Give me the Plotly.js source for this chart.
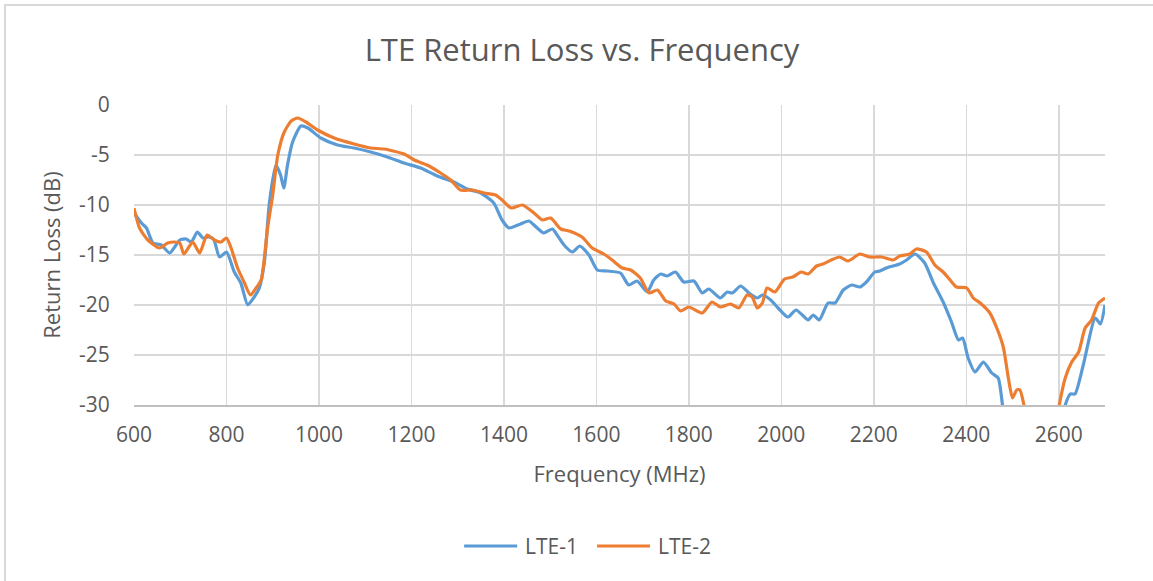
<!DOCTYPE html>
<html>
<head>
<meta charset="utf-8">
<script src="https://cdn.plot.ly/plotly-3.0.1.min.js"></script>
<style>
  html, body { margin: 0; padding: 0; background: #fff; }
  #chart { position: absolute; left: 0; top: 0; width: 1153px; height: 581px; }
  #frame { position: absolute; left: 4px; top: 4px; width: 1200px; height: 600px;
           border-top: 2px solid #d9d9d9; border-left: 2px solid #d9d9d9; pointer-events: none; }
</style>
</head>
<body>
<div id="chart"></div>
<div id="frame"></div>
<script>
const lte1Freq = [600,616,627,641,659,677,688,699,713,724,737,749,761,772,785,800,817,831,846,860,871,882,893,907,917,924,932,943,961,976,1004,1040,1076,1112,1148,1184,1220,1256,1292,1321,1350,1378,1396,1411,1436,1454,1472,1486,1505,1515,1530,1548,1564,1584,1602,1623,1652,1670,1688,1710,1724,1739,1753,1771,1789,1811,1829,1843,1868,1883,1894,1912,1930,1948,1959,1977,1993,2014,2032,2058,2069,2082,2101,2116,2134,2152,2170,2184,2202,2213,2227,2256,2271,2289,2310,2329,2350,2368,2383,2392,2404,2419,2437,2455,2469,2480,2500,2560,2600,2614,2625,2635,2653,2679,2690,2700];
const lte1Loss = [-10.8,-11.8,-12.3,-13.8,-14.0,-14.8,-14.2,-13.5,-13.4,-13.7,-12.7,-13.3,-13.2,-13.4,-15.2,-14.7,-16.7,-17.8,-20.0,-19.2,-18.3,-15.7,-9.7,-6.0,-7.0,-8.3,-6.0,-3.7,-2.1,-2.3,-3.3,-4.0,-4.3,-4.7,-5.2,-5.8,-6.3,-7.1,-7.7,-8.4,-8.8,-9.8,-11.5,-12.3,-11.9,-11.6,-12.3,-12.8,-12.4,-13.0,-14.0,-14.7,-14.1,-15.0,-16.5,-16.6,-16.8,-18.0,-17.6,-18.7,-17.5,-16.9,-17.1,-16.7,-17.7,-17.6,-18.8,-18.4,-19.3,-18.7,-18.8,-18.1,-18.8,-19.3,-19.0,-19.5,-20.3,-21.2,-20.5,-21.5,-21.0,-21.5,-19.8,-19.8,-18.5,-18.0,-18.2,-17.7,-16.7,-16.6,-16.3,-15.9,-15.5,-14.9,-15.8,-17.8,-19.7,-21.7,-23.5,-23.3,-25.3,-26.7,-25.7,-26.8,-27.3,-30.5,-34,-36,-33,-30,-28.9,-28.9,-26.0,-21.3,-21.9,-20.0];

const lte2Freq = [600,612,630,655,673,688,699,708,727,742,758,774,788,800,810,824,838,852,864,875,889,900,911,925,940,954,972,997,1033,1076,1112,1141,1184,1206,1234,1263,1285,1306,1332,1357,1382,1396,1416,1440,1465,1483,1501,1523,1541,1569,1591,1616,1634,1656,1674,1695,1714,1732,1750,1768,1782,1800,1829,1850,1868,1890,1908,1926,1937,1948,1959,1969,1986,2007,2025,2043,2058,2076,2090,2108,2126,2144,2170,2191,2217,2242,2256,2278,2292,2314,2332,2350,2365,2379,2401,2415,2430,2451,2466,2480,2491,2500,2509,2516,2527,2545,2575,2590,2601,2614,2628,2643,2657,2671,2686,2700];
const lte2Loss = [-10.3,-12.3,-13.5,-14.3,-13.8,-13.7,-13.8,-14.9,-13.7,-14.8,-13.0,-13.5,-13.7,-13.3,-14.3,-16.3,-17.7,-19.0,-18.3,-17.5,-12.3,-9.0,-5.0,-2.7,-1.6,-1.3,-1.7,-2.5,-3.3,-3.9,-4.3,-4.4,-4.9,-5.5,-6.0,-6.8,-7.5,-8.5,-8.5,-8.8,-9.0,-9.5,-10.3,-10.0,-10.8,-11.5,-11.3,-12.4,-12.6,-13.2,-14.3,-14.9,-15.5,-16.3,-16.5,-17.3,-18.8,-18.5,-19.6,-19.9,-20.6,-20.2,-20.8,-19.7,-20.2,-19.9,-20.3,-19.0,-19.2,-20.3,-19.8,-18.3,-18.7,-17.4,-17.2,-16.7,-16.9,-16.1,-15.9,-15.5,-15.2,-15.6,-14.9,-15.2,-15.2,-15.5,-15.1,-14.9,-14.4,-14.7,-16.0,-16.7,-17.5,-18.2,-18.3,-19.3,-19.8,-20.8,-22.3,-24.2,-27.3,-29.3,-28.5,-28.5,-30.5,-34,-35,-33,-30,-27.3,-25.7,-24.7,-22.3,-21.5,-19.8,-19.3];

const seriesNames = ['LTE-1', 'LTE-2'];
const seriesColors = ['#5B9BD5', '#ED7D31'];
const xTicks = [600,800,1000,1200,1400,1600,1800,2000,2200,2400,2600];
const yTicks = [0,-5,-10,-15,-20,-25,-30];

const FONT = 'Open Sans, sans-serif';
const TXT = '#595959';

const traces = [
  { x: lte1Freq, y: lte1Loss, name: seriesNames[0], type: 'scatter', mode: 'lines',
    line: { color: seriesColors[0], width: 3.2, shape: 'spline', smoothing: 0.6 } },
  { x: lte2Freq, y: lte2Loss, name: seriesNames[1], type: 'scatter', mode: 'lines',
    line: { color: seriesColors[1], width: 3.2, shape: 'spline', smoothing: 0.6 } }
];

// legend drawn below the axis (line swatch + label), in paper coordinates
const legY = -0.47;
const legItems = [
  { x0: 0.340, x1: 0.3946, tx: 0.4007 },
  { x0: 0.4769, x1: 0.5314, tx: 0.5375 }
];
const shapes = legItems.map((it, i) => ({
  type: 'line', xref: 'paper', yref: 'paper', x0: it.x0, x1: it.x1, y0: legY, y1: legY,
  line: { color: seriesColors[i], width: 3 }
}));
const annotations = legItems.map((it, i) => ({
  xref: 'paper', yref: 'paper', x: it.tx, y: legY, xanchor: 'left', yanchor: 'middle',
  text: seriesNames[i], showarrow: false, font: { family: FONT, size: 21, color: TXT }
}));

const layout = {
  width: 1153, height: 581,
  margin: { l: 133.5, r: 47.5, t: 105, b: 176 },
  paper_bgcolor: '#fff', plot_bgcolor: '#fff',
  font: { family: FONT, color: TXT, size: 18 },
  title: { text: 'LTE Return Loss vs. Frequency', font: { family: FONT, size: 31, color: TXT },
           x: 582/1153, xanchor: 'center', y: 1 - 50/581, yanchor: 'middle', xref: 'container' },
  xaxis: {
    range: [600, 2700], tickvals: xTicks, ticktext: xTicks.map(String),
    showgrid: true, gridcolor: '#d9d9d9', gridwidth: 1.5,
    showline: true, linecolor: '#bfbfbf', linewidth: 1.5,
    zeroline: false, ticks: 'outside', ticklen: 10, tickcolor: 'rgba(0,0,0,0)',
    tickfont: { family: FONT, size: 21, color: TXT },
    title: { text: 'Frequency (MHz)', font: { family: FONT, size: 22, color: TXT }, standoff: 20 }
  },
  yaxis: {
    range: [-30, 0], tickvals: yTicks, ticktext: yTicks.map(String),
    showgrid: true, gridcolor: '#d9d9d9', gridwidth: 1.5,
    showline: false, zeroline: false,
    ticks: 'outside', ticklen: 19, tickcolor: 'rgba(0,0,0,0)',
    tickfont: { family: FONT, size: 21, color: TXT },
    title: { text: 'Return Loss (dB)', font: { family: FONT, size: 22, color: TXT }, standoff: 12 }
  },
  showlegend: false,
  shapes: shapes,
  annotations: annotations
};

Plotly.newPlot('chart', traces, layout, { displayModeBar: false, staticPlot: true });
</script>
</body>
</html>
